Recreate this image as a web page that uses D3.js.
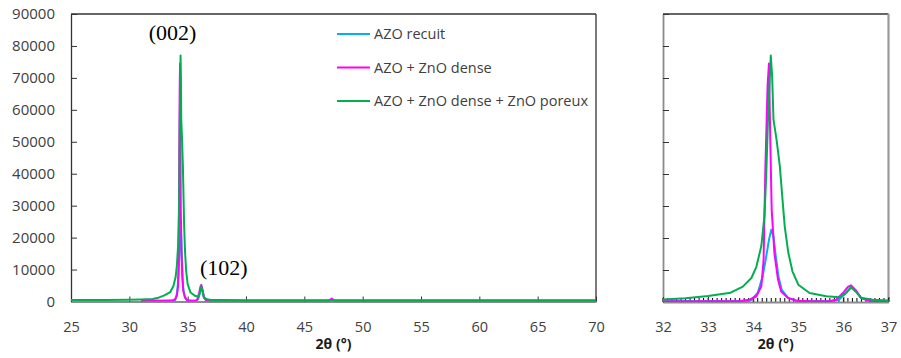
<!DOCTYPE html>
<html><head><meta charset="utf-8">
<script src="https://cdn.jsdelivr.net/npm/d3@7"></script>
<style>body{margin:0;background:#fff}svg{display:block}</style>
</head><body>
<svg id="c" width="901" height="358"></svg>
<script>
// ---- data ----
const seriesNames = ["AZO recuit", "AZO + ZnO dense", "AZO + ZnO dense + ZnO poreux"];
const seriesColors = ["#00b0f0", "#ff00ff", "#00b050"];

const blueX = [31, 33.9, 33.96, 34.1, 34.21, 34.29, 34.35, 34.4, 34.45, 34.5, 34.56, 34.63, 34.77, 34.99, 35.7, 35.9, 36.0, 36.1, 36.18, 36.28, 36.4, 36.6, 37, 40, 47.1, 47.35, 47.6, 70];
const blueY = [150, 300, 700, 2800, 8000, 14300, 19500, 22600, 20500, 14300, 8000, 3900, 1300, 300, 200, 700, 2000, 3600, 4500, 3300, 1200, 300, 150, 150, 150, 600, 150, 150];

const magX = [31, 33, 33.7, 33.92, 34.07, 34.18, 34.23, 34.27, 34.32, 34.35, 34.38, 34.41, 34.47, 34.55, 34.62, 34.77, 34.95, 35.3, 35.7, 35.84, 35.99, 36.1, 36.17, 36.28, 36.39, 36.58, 37, 40, 47.1, 47.35, 47.6, 70];
const magY = [200, 200, 300, 700, 1800, 4900, 13000, 42000, 68000, 74500, 49700, 28800, 15300, 7000, 3300, 1300, 400, 200, 300, 700, 2800, 4700, 5200, 3600, 1300, 300, 200, 200, 200, 900, 200, 200];

const greenX = [25, 28, 30, 31, 32, 32.5, 33, 33.5, 33.77, 33.96, 34.07, 34.18, 34.25, 34.29, 34.33, 34.39, 34.42, 34.45, 34.52, 34.59, 34.65, 34.7, 34.78, 34.87, 35.0, 35.25, 35.62, 35.91, 36.06, 36.17, 36.27, 36.39, 36.65, 37, 38, 40, 55, 70];
const greenY = [500, 500, 550, 650, 800, 1200, 1900, 2900, 4800, 7500, 11000, 17500, 27000, 40000, 58000, 77000, 70500, 57000, 50500, 42500, 32000, 23500, 15300, 9600, 5400, 2800, 1800, 1500, 2800, 4700, 3300, 1300, 700, 500, 450, 400, 400, 400];

const yTicks = [0, 10000, 20000, 30000, 40000, 50000, 60000, 70000, 80000, 90000];
const xTicksLeft = [25, 30, 35, 40, 45, 50, 55, 60, 65, 70];
const xTicksRight = [32, 33, 34, 35, 36, 37];
const peakLabels = [{text: "(002)", x: 33.7, y: 81800}, {text: "(102)", x: 38.1, y: 8200}];
const axisTitle = "2θ (°)";

// ---- drawing ----
const svg = d3.select("#c");
const series = [
  {xs: blueX, ys: blueY},
  {xs: magX, ys: magY},
  {xs: greenX, ys: greenY}
].map((s, i) => ({name: seriesNames[i], color: seriesColors[i], pts: s.xs.map((x, j) => [x, s.ys[j]])}));

function panel(id, box, xDomain, xTicks, showYLabels, minor, st) {
  const x = d3.scaleLinear().domain(xDomain).range([box.x0, box.x1]);
  const y = d3.scaleLinear().domain([0, 90000]).range([box.y1, box.y0]);
  const g = svg.append("g");
  g.append("clipPath").attr("id", id).append("rect")
    .attr("x", box.x0).attr("y", box.y0 - 2).attr("width", box.x1 - box.x0).attr("height", box.y1 - box.y0 + 2);

  // frame
  g.append("line").attr("x1", box.x0).attr("x2", box.x1).attr("y1", box.y0).attr("y2", box.y0).attr("stroke", "#333").attr("stroke-width", 1.3);
  g.append("line").attr("x1", box.x1).attr("x2", box.x1).attr("y1", box.y0).attr("y2", box.y1)
    .attr("stroke", st.right).attr("stroke-width", st.rightW);

  // y axis with inward ticks
  const ya = d3.axisLeft(y).tickValues(yTicks).tickSizeInner(-6).tickSizeOuter(0)
    .tickFormat(showYLabels ? d3.format("d") : () => "").tickPadding(16);
  const yg = g.append("g").attr("transform", `translate(${box.x0},0)`).call(ya);
  yg.select(".domain").attr("stroke", st.left).attr("stroke-width", st.leftW);
  yg.selectAll(".tick line").attr("stroke", "#333");
  yg.selectAll(".tick text").attr("font-family", "Open Sans").attr("font-size", 15).attr("fill", "#404040");

  // x minor ticks
  if (minor) {
    const mt = d3.range(Math.round(xDomain[0] * 10), Math.round(xDomain[1] * 10) + 1).map(v => v / 10);
    g.append("g").selectAll("line").data(mt).join("line")
      .attr("x1", d => x(d)).attr("x2", d => x(d)).attr("y1", box.y1).attr("y2", box.y1 - 4)
      .attr("stroke", "#000").attr("stroke-width", 1);
  }
  // x axis with inward ticks
  const xa = d3.axisBottom(x).tickValues(xTicks).tickSizeInner(-5).tickSizeOuter(0).tickPadding(20).tickFormat(d3.format("d"));
  const xg = g.append("g").attr("transform", `translate(0,${box.y1})`).call(xa);
  xg.select(".domain").attr("stroke", "#8c8c8c").attr("stroke-width", 1.8);
  xg.selectAll(".tick line").attr("stroke", "#333");
  xg.selectAll(".tick text").attr("font-family", "Open Sans").attr("font-size", 14.5).attr("fill", "#404040");

  // lines
  const line = d3.line().x(d => x(d[0])).y(d => y(d[1]));
  g.append("g").attr("clip-path", `url(#${id})`).selectAll("path").data(series).join("path")
    .attr("d", d => line(d.pts.filter(p => p[0] >= xDomain[0] - 1 && p[0] <= xDomain[1] + 1)))
    .attr("fill", "none").attr("stroke", d => d.color).attr("stroke-width", 2).attr("stroke-linejoin", "round");

  // axis title
  g.append("text").attr("x", (box.x0 + box.x1) / 2).attr("y", 349).attr("text-anchor", "middle")
    .attr("font-family", "Open Sans").attr("font-weight", "bold").attr("font-size", 14).attr("fill", "#1a1a1a").text(axisTitle);
  return {x, y, g};
}

const left = panel("clipL", {x0: 71, x1: 596, y0: 14, y1: 301.5}, [25, 70], xTicksLeft, true, false,
  {left: "#333", leftW: 1.3, right: "#333", rightW: 1.3});
panel("clipR", {x0: 663, x1: 888.5, y0: 14, y1: 302}, [32, 37], xTicksRight, false, true,
  {left: "#8c8c8c", leftW: 1.8, right: "#9a9a9a", rightW: 2.2});

// peak annotations
left.g.append("g").selectAll("text").data(peakLabels).join("text")
  .attr("x", d => left.x(d.x)).attr("y", d => left.y(d.y)).attr("text-anchor", "middle")
  .attr("font-family", "Liberation Serif").attr("font-size", 22).attr("fill", "#000").text(d => d.text);

// legend
const lg = svg.append("g").selectAll("g").data(series).join("g")
  .attr("transform", (d, i) => `translate(337,${34 + i * 33.5})`);
lg.append("line").attr("x1", 0).attr("x2", 33).attr("stroke", d => d.color).attr("stroke-width", 2);
lg.append("text").attr("x", 37).attr("dy", "0.35em").attr("font-family", "Open Sans").attr("font-size", 14.5)
  .attr("fill", "#404040").text(d => d.name);
</script>
</body></html>
